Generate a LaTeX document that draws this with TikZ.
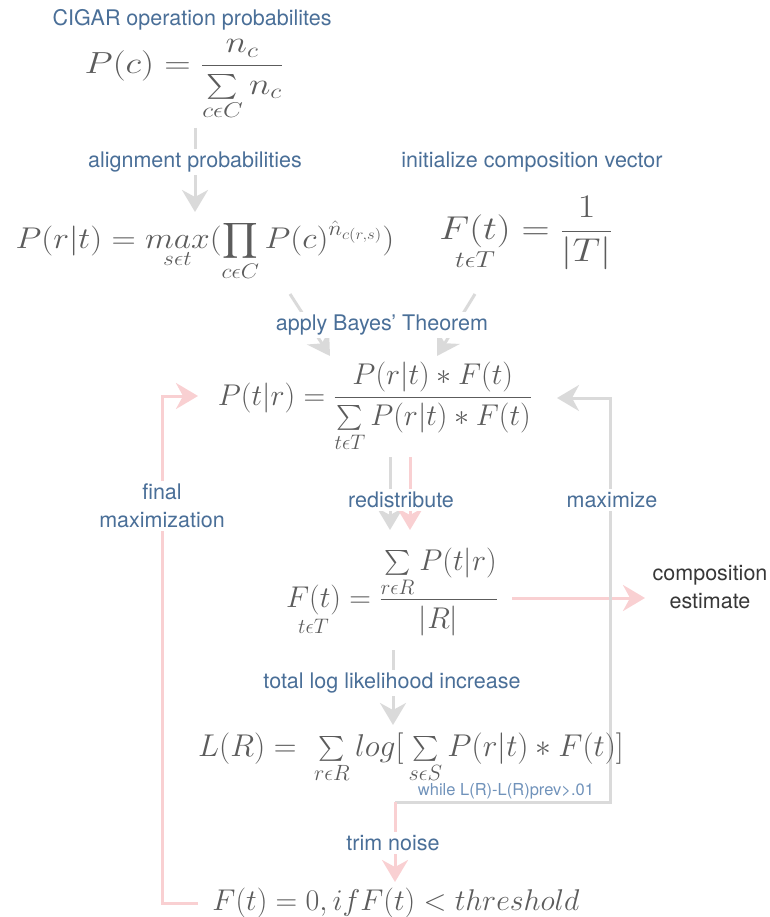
\RequirePackage{fix-cm}
\documentclass[tikz,border=0pt]{standalone}
\usepackage{amsmath}
\usepackage{graphicx}
\usepackage{fontspec}
\newfontfamily\labfont{TeX Gyre Heros}
\usetikzlibrary{arrows.meta,backgrounds}
\definecolor{labblue}{RGB}{74,111,152}
\definecolor{lightblue}{RGB}{112,146,186}
\definecolor{mathgray}{RGB}{92,92,92}
\definecolor{lgray}{RGB}{218,218,218}
\definecolor{lpink}{RGB}{249,208,210}
\definecolor{dgray}{RGB}{55,55,55}
\begin{document}
\begin{tikzpicture}[x=1pt,y=-1pt,
  lab/.style={font=\labfont\fontsize{21.5}{28}\selectfont, text=labblue, fill=white, inner sep=3pt},
  eqn/.style={text=mathgray, inner sep=0pt, font=\fontsize{30}{36}\selectfont},
  gline/.style={draw=lgray, line width=3pt},
  pline/.style={draw=lpink, line width=3pt},
  arr/.style={-{Stealth[length=22pt,width=26pt,inset=7pt]}}]
\useasboundingbox (0,0) rectangle (769,917);
% labels and equations
\node[lab] (t1) at (192,20) {CIGAR operation probabilites};
\node[eqn,font=\fontsize{30.5}{36}\selectfont] (e1) at (184,80) {\scalebox{1.2}[1]{$\displaystyle P(c) = \frac{n_c}{\sum\limits_{c\epsilon C} n_c}$}};
\node[lab] (t2) at (195,162) {alignment probabilities};
\node[lab] (t3) at (532,162) {initialize composition vector};
\node[eqn] (e2) at (205,251) {\scalebox{1.12}[1]{$\displaystyle P(r|t) = \underset{s\epsilon t}{max}(\prod_{c\epsilon C} P(c)^{\hat{n}_{c(r,s)}})$}};
\node[eqn,font=\fontsize{33}{40}\selectfont] (e3) at (526,233) {\scalebox{1.18}[1]{$\displaystyle \underset{t\epsilon T}{F(t)} = \frac{1}{|T|}$}};
\node[lab] (t4) at (382,325) {apply Bayes’ Theorem};
\node[eqn] (e4) at (375,407) {$\displaystyle P(t|r) = \frac{P(r|t) * F(t)}{\sum\limits_{t\epsilon T} P(r|t) * F(t)}$};
\node[lab,align=center] (t5) at (162,506) {final\\maximization};
\node[lab] (t6) at (401,500) {redistribute};
\node[lab] (t7) at (612,500) {maximize};
\node[eqn] (e5) at (392,592) {$\displaystyle \underset{t\epsilon T}{F(t)} = \frac{\sum\limits_{r\epsilon R} P(t|r)}{|R|}$};
\node[lab,text=dgray,align=center,fill=none] (t8) at (710,587) {composition\\estimate};
\node[lab] (t9) at (392,683) {total log likelihood increase};
\node[eqn,font=\fontsize{31.5}{38}\selectfont] (e6) at (411,758) {$L(R) = \;\sum\limits_{r\epsilon R} log[\,\sum\limits_{s\epsilon S} P(r|t) * F(t)]$};
\node[lab,font=\labfont\fontsize{16.5}{20}\selectfont,text=lightblue,fill=none,inner sep=0pt] (t10) at (506,791) {while L(R)-L(R)prev>.01};
\node[lab] (t11) at (393,843) {trim noise};
\node[eqn] (e7) at (396,903) {$F(t) = 0, if F(t) < threshold$};
% connector points
\coordinate (a1s) at (195,128);
\coordinate (a1e) at (195,212);
\coordinate (d1s) at (290,294);
\coordinate (d1e) at (330,356);
\coordinate (d2s) at (475,294);
\coordinate (d2e) at (437,356);
\coordinate (rgs) at (390,457);
\coordinate (rge) at (390,530);
\coordinate (rps) at (410,457);
\coordinate (rpe) at (410,530);
\coordinate (cs) at (512,598);
\coordinate (ce) at (645,598);
\coordinate (ls) at (393,650);
\coordinate (le) at (393,725);
\coordinate (jn) at (395,802);
\coordinate (jr) at (610,802);
\coordinate (jt) at (610,398);
\coordinate (je) at (557,398);
\coordinate (te) at (395,882);
\coordinate (fs) at (198,903);
\coordinate (fb) at (162,903);
\coordinate (ft) at (162,396);
\coordinate (fe) at (198,396);
\begin{scope}[on background layer]
\draw[gline,arr] (a1s) -- (a1e);
\draw[gline,arr] (d1s) -- (d1e);
\draw[gline,arr] (d2s) -- (d2e);
\draw[gline,arr] (rgs) -- (rge);
\draw[pline,arr] (rps) -- (rpe);
\draw[pline,arr] (cs) -- (ce);
\draw[gline,arr] (ls) -- (le);
\draw[gline,arr] (jn) -- (jr) -- (jt) -- (je);
\draw[pline,arr] (jn) -- (te);
\draw[pline,arr] (fs) -- (fb) -- (ft) -- (fe);
\end{scope}
\end{tikzpicture}
\end{document}
